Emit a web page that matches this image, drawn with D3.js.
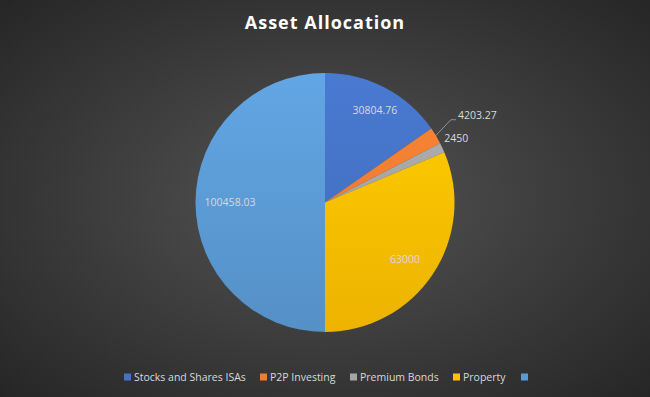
<!DOCTYPE html>
<html>
<head>
<meta charset="utf-8">
<script src="https://cdn.jsdelivr.net/npm/d3@7"></script>
<style>
  body { margin: 0; background: #333; }
  svg { display: block; font-family: "Open Sans", "Noto Sans", sans-serif; }
</style>
</head>
<body>
<svg id="chart" width="650" height="397"></svg>
<script>
const categories = ["Stocks and Shares ISAs", "P2P Investing", "Premium Bonds", "Property", ""];
const values = [30804.76, 4203.27, 2450, 63000, 100458.03];
const valueLabels = ["30804.76", "4203.27", "2450", "63000", "100458.03"];
const colors = ["#4472C4", "#ED7D31", "#A5A5A5", "#FFC000", "#5B9BD5"];

const width = 650, height = 397;
const cx = 325, cy = 202.5, radius = 129.5;

const svg = d3.select("#chart");
const defs = svg.append("defs");

// Background radial gradient
const bg = defs.append("radialGradient").attr("id", "bg")
    .attr("cx", "50%").attr("cy", "50%").attr("r", "75%");
bg.append("stop").attr("offset", "0%").attr("stop-color", "#545454");
bg.append("stop").attr("offset", "100%").attr("stop-color", "#232323");
svg.append("rect").attr("width", width).attr("height", height).attr("fill", "url(#bg)");

// Slice gradients (lighter at top, darker at bottom)
colors.forEach(function(c, i) {
    const g = defs.append("linearGradient").attr("id", "slice" + i)
        .attr("gradientUnits", "userSpaceOnUse")
        .attr("x1", 0).attr("y1", -radius).attr("x2", 0).attr("y2", radius);
    g.append("stop").attr("offset", "0%").attr("stop-color", d3.color(c).brighter(0.2));
    g.append("stop").attr("offset", "100%").attr("stop-color", d3.color(c).darker(0.2));
});

// Title
svg.append("text")
    .attr("x", cx).attr("y", 29)
    .attr("text-anchor", "middle")
    .attr("fill", "#ffffff")
    .attr("font-size", 18)
    .attr("font-weight", "bold")
    .attr("letter-spacing", 1)
    .text("Asset Allocation");

const pie = d3.pie().sort(null).value(function(d) { return d; });
const arcs = pie(values);
const arc = d3.arc().innerRadius(0).outerRadius(radius);
const labelArc = d3.arc().innerRadius(radius * 0.75).outerRadius(radius * 0.75);

const g = svg.append("g").attr("transform", "translate(" + cx + "," + cy + ")");

g.selectAll("path.slice")
    .data(arcs)
    .enter()
    .append("path")
    .attr("class", "slice")
    .attr("d", arc)
    .attr("fill", function(d, i) { return "url(#slice" + i + ")"; });

// Data labels: big slices inside, small ones outside
const outsideOffsets = { 1: [22, -20], 2: [2, -9] };
arcs.forEach(function(d, i) {
    let x, y, anchor = "middle";
    if (outsideOffsets[i]) {
        const edge = d3.arc().innerRadius(radius).outerRadius(radius).centroid(d);
        x = edge[0] + outsideOffsets[i][0];
        y = edge[1] + outsideOffsets[i][1];
        anchor = "start";
        if (i === 1) {
            const mid = (d.startAngle + d.endAngle) / 2;
            const sx = Math.sin(mid) * (radius - 1), sy = -Math.cos(mid) * (radius - 1);
            g.append("polyline")
                .attr("points", [[sx, sy], [x - 7, y + 4], [x - 2, y + 4]].join(" "))
                .attr("fill", "none")
                .attr("stroke", "#a6a6a6")
                .attr("stroke-width", 0.8);
        }
    } else {
        const c = labelArc.centroid(d);
        x = c[0]; y = c[1];
        if (i === 0) { x = 50; y = -92; }
        if (i === 3) { x = 80; y = 57; }
        if (i === 4) { x = -95; y = 0; }
    }
    g.append("text")
        .attr("x", x).attr("y", y)
        .attr("dy", "0.35em")
        .attr("text-anchor", anchor)
        .attr("fill", "#d9d9d9")
        .attr("font-size", 10.5)
        .text(valueLabels[i]);
});

// Legend
const legendX = [124, 260, 350, 453, 521];
const legend = svg.append("g");
categories.forEach(function(name, i) {
    const item = legend.append("g").attr("transform", "translate(" + legendX[i] + ",377)");
    item.append("rect")
        .attr("x", 0).attr("y", -3.5)
        .attr("width", 7).attr("height", 7)
        .attr("fill", colors[i]);
    item.append("text")
        .attr("x", 10).attr("y", 0)
        .attr("dy", "0.35em")
        .attr("fill", "#d9d9d9")
        .attr("font-size", 10.5)
        .text(name);
});
</script>
</body>
</html>
